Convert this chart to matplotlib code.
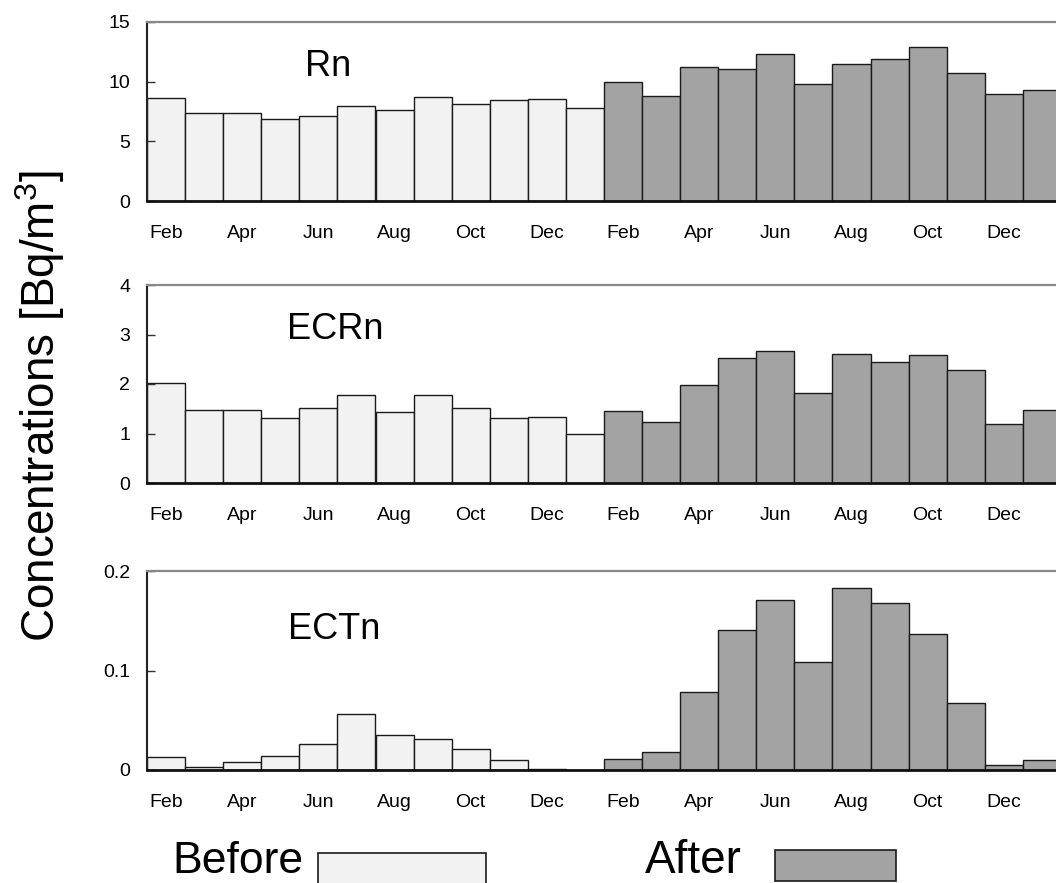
import numpy as np
import matplotlib
matplotlib.use('Agg')
import matplotlib.pyplot as plt
from matplotlib.patches import Rectangle

plt.rcParams['font.family'] = ['Liberation Sans', 'DejaVu Sans']
plt.rcParams['mathtext.fontset'] = 'custom'
plt.rcParams['mathtext.rm'] = 'Liberation Sans'
plt.rcParams['mathtext.it'] = 'Liberation Sans'

# months Feb..Jan, before and after
month_labels = ['Feb', 'Apr', 'Jun', 'Aug', 'Oct', 'Dec'] * 2

rn_before = [8.62, 7.36, 7.36, 6.91, 7.11, 7.98, 7.61, 8.71, 8.12, 8.46, 8.54, 7.78]
rn_after = [9.97, 8.79, 11.21, 11.07, 12.33, 9.80, 11.46, 11.88, 12.92, 10.70, 8.99, 9.27]

ecrn_before = [2.03, 1.47, 1.47, 1.31, 1.51, 1.77, 1.43, 1.77, 1.51, 1.31, 1.33, 0.99]
ecrn_after = [1.45, 1.24, 1.97, 2.53, 2.66, 1.82, 2.60, 2.44, 2.58, 2.28, 1.19, 1.47]

ectn_before = [0.0128, 0.0027, 0.0077, 0.0138, 0.026, 0.056, 0.035, 0.031, 0.021, 0.0098, 0.0007, 0.0]
ectn_after = [0.0114, 0.0185, 0.078, 0.141, 0.171, 0.109, 0.183, 0.168, 0.137, 0.067, 0.0047, 0.0098]

panels = [
    ('Rn', rn_before, rn_after, 15, [0, 5, 10, 15], ['0', '5', '10', '15']),
    ('ECRn', ecrn_before, ecrn_after, 4, [0, 1, 2, 3, 4], ['0', '1', '2', '3', '4']),
    ('ECTn', ectn_before, ectn_after, 0.2, [0, 0.1, 0.2], ['0', '0.1', '0.2']),
]

W, H = 1056, 883
fig = plt.figure(figsize=(W / 100, H / 100), dpi=100)

# axes boxes in pixels: (top, bottom)
boxes = [(22, 201), (285, 483), (571, 770)]
title_pos = [(0.173, 0.754), (0.153, 0.773), (0.154, 0.706)]
left_px, width_px = 147, 914

c_before = '#f2f2f2'
c_after = '#a3a3a3'

for (name, bef, aft, ymax, yt, ytl), (top, bot), (tx, ty) in zip(panels, boxes, title_pos):
    ax = fig.add_axes([left_px / W, 1 - bot / H, width_px / W, (bot - top) / H])
    n = len(bef)
    x_b = np.arange(n)
    x_a = np.arange(n) + n
    ax.bar(x_b, bef, width=1.0, color=c_before, edgecolor='#1a1a1a', linewidth=1.0)
    ax.bar(x_a, aft, width=1.0, color=c_after, edgecolor='#1a1a1a', linewidth=1.0)
    ax.set_xlim(-0.5, 2 * n - 0.5)
    ax.set_ylim(0, ymax)
    ax.set_yticks(yt)
    ax.set_yticklabels(ytl)
    ax.set_xticks(np.arange(0, 2 * n, 2))
    ax.set_xticklabels(month_labels)
    ax.tick_params(axis='x', length=0, pad=17, labelsize=14)
    ax.tick_params(axis='y', direction='in', length=6, width=1, pad=12, labelsize=14,
                   color='#333333')
    ax.spines['right'].set_visible(False)
    ax.spines['top'].set_color('#888888')
    ax.spines['top'].set_linewidth(1.6)
    ax.spines['bottom'].set_color('#111111')
    ax.spines['bottom'].set_linewidth(2.0)
    ax.spines['left'].set_color('#222222')
    ax.spines['left'].set_linewidth(1.5)
    ax.text(tx, ty, name, transform=ax.transAxes, fontsize=26, va='center', ha='left')

fig.text(40 / W, 1 - 406 / H, r'Concentrations [Bq/m$^3$]', rotation=90,
         fontsize=33, va='center', ha='center')

# legend
fig.text(304 / W, 1 - 873 / H, 'Before', fontsize=32, ha='right', va='baseline')
fig.patches.append(Rectangle((318 / W, 1 - 885 / H), 168 / W, 32 / H,
                             transform=fig.transFigure, facecolor=c_before,
                             edgecolor='#1a1a1a', linewidth=1.2))
fig.text(742 / W, 1 - 873 / H, 'After', fontsize=33, ha='right', va='baseline')
fig.patches.append(Rectangle((775 / W, 1 - 881 / H), 121 / W, 31 / H,
                             transform=fig.transFigure, facecolor=c_after,
                             edgecolor='#1a1a1a', linewidth=1.2))

fig.savefig('out.png', dpi=100)
